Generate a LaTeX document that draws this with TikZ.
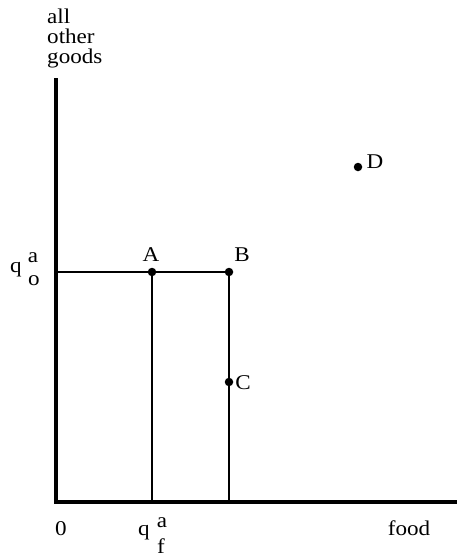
\documentclass[tikz,border=0pt]{standalone}
\usepackage{fontspec}
\setmainfont{Liberation Serif}[FakeStretch=1.1]
\usetikzlibrary{positioning}

\begin{document}
\begin{tikzpicture}[
    x=1pt, y=-1pt,
    lbl/.style={inner sep=0pt, anchor=base, font=\fontsize{21}{20}\selectfont},
    axis/.style={line width=4.2pt},
    thin/.style={line width=1.8pt},
    dot/.style={circle, fill, inner sep=0pt, minimum size=8.5pt}
]
\useasboundingbox (0,0) rectangle (457,557);

% axes
\coordinate (o) at (56,502);
\coordinate (ytop) at (56,78);
\coordinate (xend) at (457,502);
\draw[axis] (ytop) -- (o) -- (xend);

% bundles
\node[dot] (A) at (152,272) {};
\node[dot] (B) at (229,272) {};
\node[dot] (C) at (229,382) {};
\node[dot] (D) at (358,167) {};
\coordinate (qo) at (56,272);
\coordinate (qf) at (152,502);
\coordinate (bf) at (229,502);
\draw[thin] (qo) -- (A) -- (B);
\draw[thin] (A) -- (qf);
\draw[thin] (B) -- (bf);

% labels
\node[lbl] (la) at (151,261) {A};
\node[lbl] (lb) at (242,261) {B};
\node[lbl] (lc) at (243,389) {C};
\node[lbl] (ld) at (375,168) {D};
\node[lbl, anchor=base west, align=left] (ylab) at (47,63) {all\\other\\goods};
\node[lbl] (zero) at (61,535) {0};
\node[lbl] (food) at (409,535) {food};
\node[lbl] (q1) at (16,272) {q};
\node[lbl] (q1a) at (33,262) {a};
\node[lbl] (q1o) at (34,285) {o};
\node[lbl] (q2) at (144,535) {q};
\node[lbl] (q2a) at (162,527) {a};
\node[lbl] (q2f) at (161,553) {f};
\end{tikzpicture}
\end{document}
